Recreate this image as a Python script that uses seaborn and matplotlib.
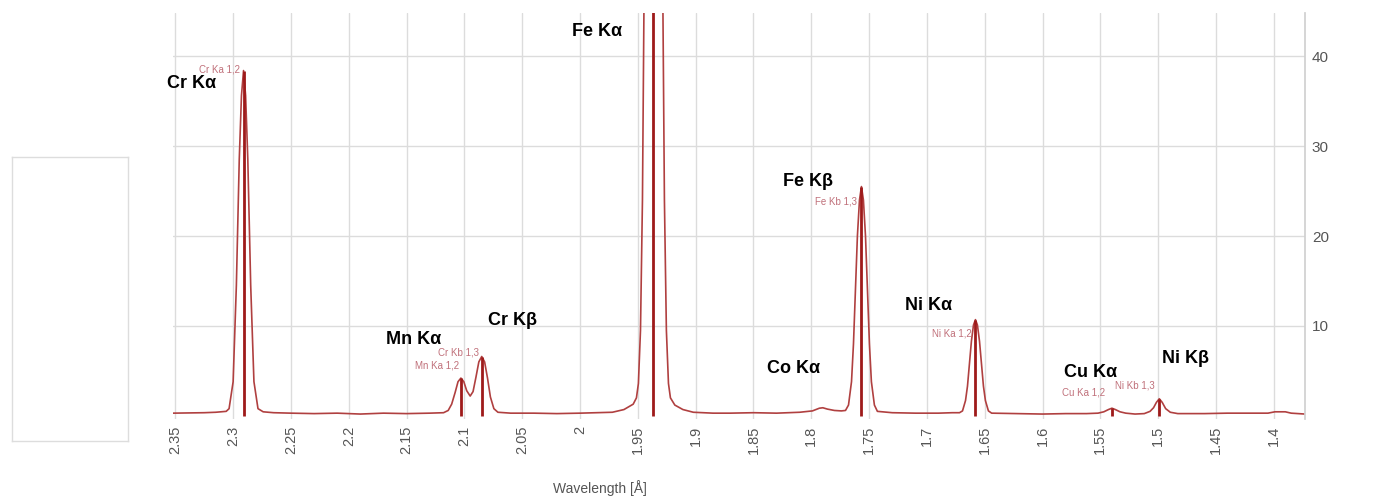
import numpy as np
import pandas as pd
import seaborn as sns
import matplotlib.pyplot as plt

# spectrum (wavelength in Angstrom, counts)
wavelength = [2.352, 2.340, 2.325, 2.315, 2.306,
              2.3035, 2.3000, 2.2972, 2.2947, 2.2928, 2.2910, 2.2892, 2.2873, 2.2848, 2.2820, 2.2785,
              2.274, 2.265, 2.250, 2.230, 2.210, 2.190, 2.170, 2.150, 2.130,
              2.1180, 2.1140, 2.1110, 2.1080, 2.1055, 2.1030, 2.1005, 2.0980, 2.0950, 2.0925,
              2.0900, 2.0875, 2.0850, 2.0825, 2.0800, 2.0775, 2.0745, 2.0710,
              2.060, 2.040, 2.020, 2.000, 1.985,
              1.9720, 1.9620, 1.9540, 1.9512, 1.9495, 1.9477, 1.9460, 1.9443, 1.9425, 1.9408, 1.9391,
              1.9365, 1.9339, 1.9322, 1.9305, 1.9287, 1.9270, 1.9253, 1.9235, 1.9218, 1.9180, 1.9110, 1.9020,
              1.885, 1.870, 1.850, 1.830, 1.810, 1.799, 1.793, 1.790, 1.786, 1.780, 1.774,
              1.7704, 1.7678, 1.7652, 1.7635, 1.7618, 1.7601, 1.7583, 1.7566, 1.7549, 1.7531, 1.7514,
              1.7497, 1.7480, 1.7454, 1.7428, 1.730, 1.710, 1.690, 1.678,
              1.6718, 1.6692, 1.6666, 1.6649, 1.6632, 1.6615, 1.6597, 1.6580, 1.6563, 1.6545, 1.6528,
              1.6511, 1.6494, 1.6468, 1.6440, 1.620, 1.600, 1.580, 1.562,
              1.552, 1.547, 1.543, 1.540, 1.537, 1.533, 1.528, 1.520,
              1.512, 1.507, 1.504, 1.5015, 1.499, 1.4965, 1.4935, 1.4895, 1.483,
              1.460, 1.440, 1.420, 1.405, 1.399, 1.390, 1.385, 1.373]
counts = [0.30, 0.32, 0.35, 0.40, 0.5,
          0.8, 3.8, 14.5, 28.5, 35.6, 38.4, 35.6, 28.5, 14.5, 3.8, 0.8,
          0.45, 0.35, 0.3, 0.25, 0.3, 0.2, 0.3, 0.25, 0.3,
          0.35, 0.6, 1.3, 2.6, 3.8, 4.2, 3.8, 2.8, 2.2, 2.7,
          4.3, 6.0, 6.6, 6.0, 4.2, 2.1, 0.8, 0.4,
          0.3, 0.3, 0.25, 0.3, 0.35,
          0.4, 0.7, 1.3, 2.0, 3.6, 9.5, 24, 52, 98, 158, 217,
          260, 217, 158, 98, 52, 24, 9.5, 3.6, 2.0, 1.2, 0.7, 0.4,
          0.3, 0.3, 0.35, 0.3, 0.4, 0.55, 0.85, 0.9, 0.75, 0.6, 0.55,
          0.6, 1.2, 3.8, 8.0, 14.0, 20.0, 24.0, 25.5, 24.0, 20.0, 14.0,
          8.0, 3.8, 1.2, 0.5, 0.35, 0.3, 0.3, 0.35,
          0.35, 0.55, 1.7, 3.3, 5.8, 8.3, 10.1, 10.7, 10.1, 8.3, 5.8,
          3.3, 1.7, 0.55, 0.3, 0.25, 0.2, 0.25, 0.25,
          0.3, 0.45, 0.7, 0.85, 0.7, 0.45, 0.3, 0.2,
          0.25, 0.5, 0.9, 1.5, 1.9, 1.5, 0.8, 0.4, 0.25,
          0.25, 0.3, 0.3, 0.3, 0.45, 0.45, 0.3, 0.2]

# identified lines (marker position and height)
line_wl = [2.2910, 2.1030, 2.0850, 1.9365, 1.7566, 1.6580, 1.5400, 1.4990]
line_top = [38.4, 4.2, 6.6, 260, 25.5, 10.7, 0.85, 1.9]

# bold labels
label_text = ["Cr Kα", "Mn Kα", "Cr Kβ", "Fe Kα", "Fe Kβ", "Co Kα", "Ni Kα", "Cu Kα", "Ni Kβ"]
label_x = [2.3360, 2.1440, 2.0581, 1.9856, 1.8025, 1.8155, 1.6989, 1.5581, 1.4761]
label_y = [37.0, 8.5, 10.6, 42.7, 26.1, 5.3, 12.3, 4.8, 6.4]

# small red peak tags (right end sits at the peak)
tag_text = ["Cr Ka 1,2", "Cr Kb 1,3", "Mn Ka 1,2", "Fe Kb 1,3", "Ni Ka 1,2", "Ni Kb 1,3", "Cu Ka 1,2"]
tag_x = [2.2942, 2.0870, 2.1047, 1.7605, 1.6611, 1.5029, 1.5460]
tag_y = [38.5, 7.1, 5.6, 23.8, 9.2, 3.4, 2.6]

xticks = [2.35, 2.3, 2.25, 2.2, 2.15, 2.1, 2.05, 2, 1.95, 1.9, 1.85, 1.8,
          1.75, 1.7, 1.65, 1.6, 1.55, 1.5, 1.45, 1.4]
yticks = [10, 20, 30, 40]

sns.set_theme(style="whitegrid")
plt.rcParams['font.family'] = ['Liberation Sans', 'DejaVu Sans']

df = pd.DataFrame({"wl": wavelength, "cnt": counts})

fig = plt.figure(figsize=(13.8, 5.0), dpi=100)
ax = fig.add_axes([173/1380, 1 - 419/500, (1305-173)/1380, (419-13)/500])

sns.lineplot(data=df, x="wl", y="cnt", ax=ax, color="#b04040", linewidth=1.2, estimator=None)
ax.vlines(line_wl, 0, line_top, color="#9e1a1a", linewidth=2)

for t, x, y in zip(label_text, label_x, label_y):
    ax.text(x, y, t, ha="center", va="center", fontsize=13, fontweight="bold", color="black")
for t, x, y in zip(tag_text, tag_x, tag_y):
    ax.text(x, y, t, ha="right", va="center", fontsize=7, color="#c0707a")

ax.set_xlim(2.352, 1.373)
ax.set_ylim(-0.35, 44.8)
ax.set_xticks(xticks)
ax.set_xticklabels([f"{v:g}" for v in xticks], rotation=90, fontsize=10.5, color="#555555")
ax.set_yticks(yticks)
ax.set_yticklabels([str(v) for v in yticks], fontsize=11, color="#555555")
ax.yaxis.tick_right()
ax.tick_params(axis="y", length=0, pad=5)
ax.tick_params(axis="x", length=0, pad=5)
ax.grid(True, color="#dcdcdc", linewidth=1)
ax.set_xlabel("Wavelength [Å]", fontsize=10, color="#555555")
ax.xaxis.set_label_coords((600-173)/(1305-173), -0.15)
ax.set_ylabel("")
for side in ["left", "top", "bottom"]:
    ax.spines[side].set_visible(False)
ax.spines["right"].set_color("#d0d0d0")

# empty box on the left
box = fig.add_axes([12/1380, 1 - 441/500, 116/1380, 284/500])
box.set_xticks([])
box.set_yticks([])
box.grid(False)
for s in box.spines.values():
    s.set_color("#dddddd")
    s.set_linewidth(1)

fig.savefig("out.png", dpi=100)
